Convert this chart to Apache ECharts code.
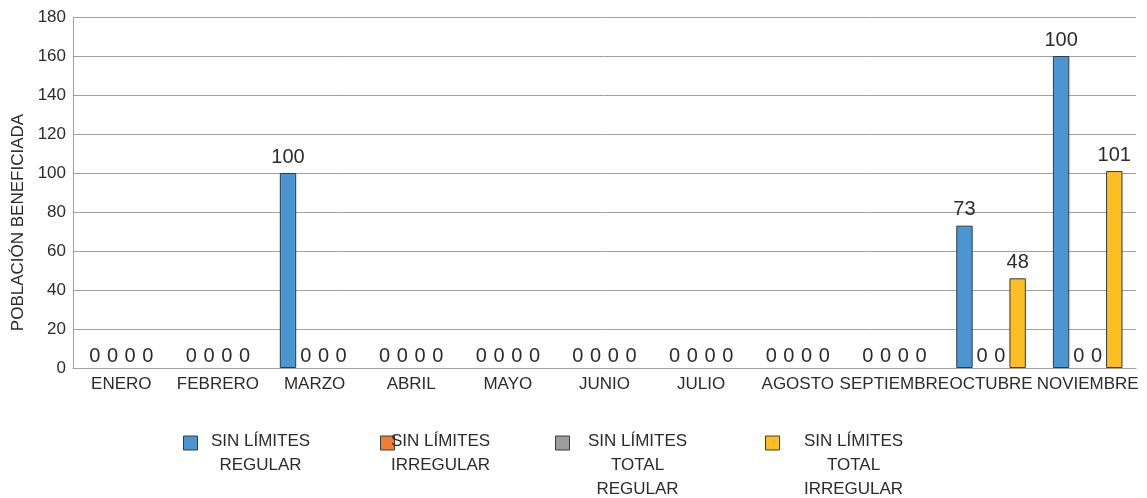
<!DOCTYPE html>
<html>
<head>
<meta charset="utf-8">
<script src="https://cdn.jsdelivr.net/npm/echarts@6/dist/echarts.min.js"></script>
<style>html,body{margin:0;padding:0;background:#fff}#c{width:1147px;height:498px}</style>
</head>
<body>
<div id="c"></div>
<script>
const categories = ['ENERO','FEBRERO','MARZO','ABRIL','MAYO','JUNIO','JULIO','AGOSTO','SEPTIEMBRE','OCTUBRE','NOVIEMBRE'];
const seriesNames = ['SIN LÍMITES REGULAR','SIN LÍMITES IRREGULAR','SIN LÍMITES TOTAL REGULAR','SIN LÍMITES TOTAL IRREGULAR'];
const legendLines = [['SIN LÍMITES','REGULAR'],['SIN LÍMITES','IRREGULAR'],['SIN LÍMITES','TOTAL','REGULAR'],['SIN LÍMITES','TOTAL','IRREGULAR']];
const regular        = [0,0,100,0,0,0,0,0,0,73,160];
const irregular      = [0,0,0,0,0,0,0,0,0,0,0];
const totalRegular   = [0,0,0,0,0,0,0,0,0,0,0];
const totalIrregular = [0,0,0,0,0,0,0,0,0,46,101];
// printed data labels (as shown in the reference)
const regularLabels        = [0,0,100,0,0,0,0,0,0,73,100];
const irregularLabels      = [0,0,0,0,0,0,0,0,0,0,0];
const totalRegularLabels   = [0,0,0,0,0,0,0,0,0,0,0];
const totalIrregularLabels = [0,0,0,0,0,0,0,0,0,48,101];
const yTicks = {min: 0, max: 180, interval: 20};

const FONT = 'Liberation Sans';
const colors = ['#4b96d1','#ef7e34','#9d9d9d','#fdbe24'];
const values = [regular, irregular, totalRegular, totalIrregular];
const labels = [regularLabels, irregularLabels, totalRegularLabels, totalIrregularLabels];

const series = seriesNames.map((n, i) => ({
  name: n,
  type: 'bar',
  data: values[i].map(v => v === 0
    ? {value: v, itemStyle: {borderWidth: 0}, label: {distance: 2}}
    : {value: v}),
  barGap: '8%',
  barCategoryGap: '28%',
  itemStyle: {color: colors[i], borderColor: '#2f3b48', borderWidth: 1},
  label: {
    show: true, position: 'top', distance: 6,
    fontFamily: FONT, fontSize: 20, color: '#2b2b2b',
    formatter: p => String(labels[i][p.dataIndex])
  }
}));

const legendPos = [{left: 183, w: 116}, {left: 380, w: 82}, {left: 555, w: 126}, {left: 765, w: 138}];
const legends = seriesNames.map((n, i) => {
  const lines = legendLines[i];
  return {
    data: [n],
    left: legendPos[i].left,
    top: 433,
    padding: 0,
    itemWidth: 14, itemHeight: 14, itemGap: 5,
    icon: 'rect',
    itemStyle: {borderColor: '#3a3a3a', borderWidth: 1},
    selectedMode: false,
    formatter: () => lines.map(l => '{c|' + l + '}').join('\n'),
    textStyle: {
      padding: [(lines.length - 1) * 24 - 3, 0, 0, 0],
      rich: {c: {width: legendPos[i].w, align: 'center', fontFamily: FONT, fontSize: 17, lineHeight: 24, color: '#2b2b2b'}}
    }
  };
});

const chart = echarts.init(document.getElementById('c'));
chart.setOption({
  animation: false,
  color: colors,
  legend: legends,
  grid: {left: 73, right: 11, top: 17, bottom: 130, containLabel: false},
  xAxis: {
    type: 'category', data: categories,
    axisLine: {lineStyle: {color: '#a0a0a0', width: 1}},
    axisTick: {show: false},
    axisLabel: {interval: 0, margin: 8, fontFamily: FONT, fontSize: 17, color: '#2b2b2b'}
  },
  yAxis: {
    type: 'value', min: yTicks.min, max: yTicks.max, interval: yTicks.interval,
    name: 'POBLACIÓN BENEFICIADA', nameLocation: 'middle', nameGap: 46, nameRotate: 90,
    nameTextStyle: {fontFamily: FONT, fontSize: 17, color: '#2b2b2b', padding: [0, 60, 0, 0]},
    axisLine: {show: true, lineStyle: {color: '#a0a0a0', width: 1}},
    axisTick: {show: false},
    splitLine: {lineStyle: {color: '#a0a0a0', width: 1}},
    axisLabel: {margin: 7, fontFamily: FONT, fontSize: 17, color: '#2b2b2b'}
  },
  series: series
});
</script>
</body>
</html>
